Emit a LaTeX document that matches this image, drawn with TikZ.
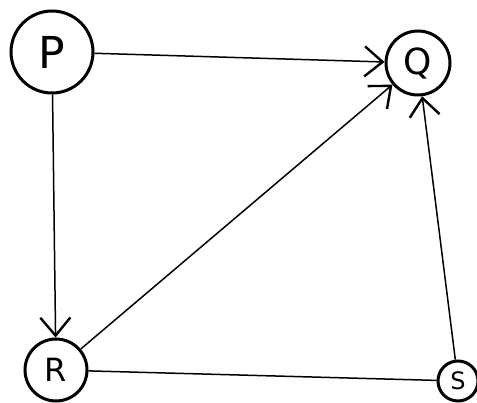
\documentclass[tikz,border=0pt]{standalone}
\usepackage{fontspec}
\setmainfont{DejaVu Sans}
\usetikzlibrary{arrows.meta}
\begin{document}
\begin{tikzpicture}[x=1pt,y=-1pt,
  vert/.style={draw=black,line width=3pt,circle,inner sep=0pt},
  edge/.style={line width=1.5pt,draw=black},
  arr/.style={edge,-{Straight Barb[length=18pt,width=30pt,line width=2.4pt]}}]
\useasboundingbox (0,0) rectangle (477,403);
\fill[white] (0,0) rectangle (477,403);
\node[vert,minimum width=82pt,minimum height=80pt,font=\fontsize{44}{44}\selectfont] (P) at (52,52) {P};
\node[vert,minimum size=64pt,font=\fontsize{36}{36}\selectfont] (Q) at (418,63) {Q};
\node[vert,minimum size=62pt,font=\fontsize{32}{32}\selectfont] (R) at (56,370) {R};
\node[vert,minimum size=40pt,font=\fontsize{24}{24}\selectfont] (S) at (458,381) {S};
\draw[arr] (P) -- (Q);
\draw[arr] (P) -- (R);
\draw[arr] (R) -- (Q);
\draw[arr] (S) -- (Q);
\draw[edge] (R) -- (S);
\end{tikzpicture}
\end{document}
